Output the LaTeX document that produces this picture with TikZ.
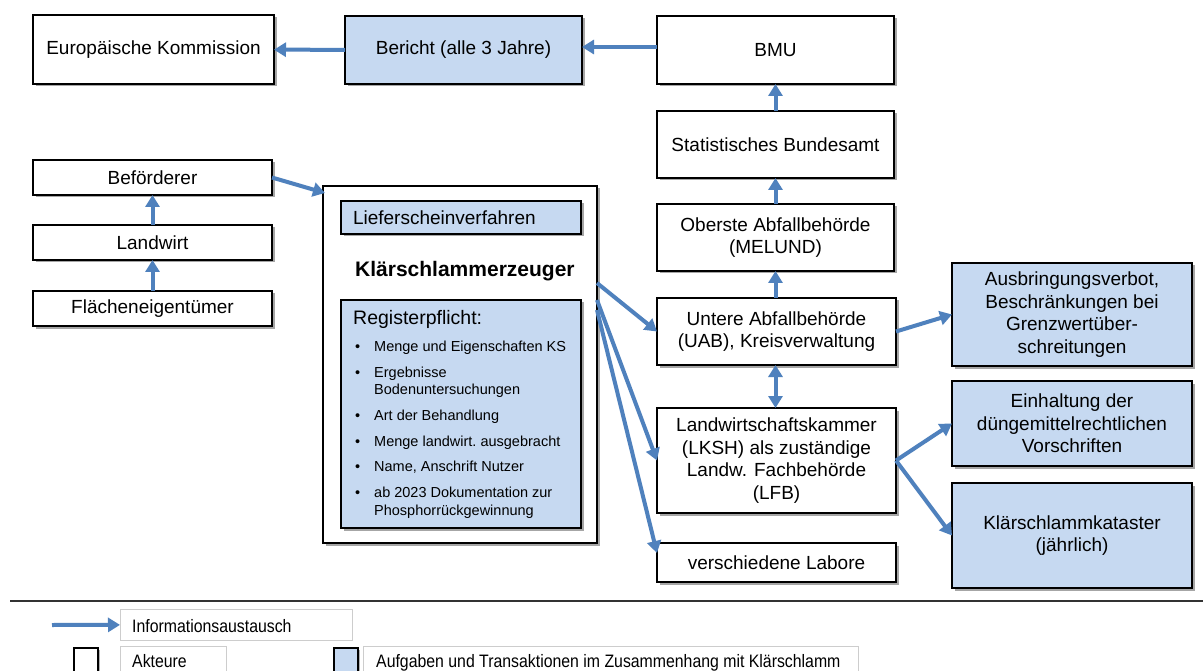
\documentclass[tikz,border=0pt]{standalone}
\usepackage{fontspec}
\setmainfont{Liberation Sans}
\newfontfamily\legfont[FakeStretch=0.88]{Liberation Sans}
\usetikzlibrary{arrows.meta,shadows,calc}
\definecolor{arrowblue}{RGB}{79,129,189}
\definecolor{taskblue}{RGB}{198,217,241}
\definecolor{leggray}{RGB}{205,205,205}
\tikzset{
  box/.style={draw=black,line width=1.1pt,fill=white,inner sep=0pt,outer sep=0pt,
    align=center,font=\fontsize{19}{22.5}\selectfont,
    drop shadow={shadow xshift=2.5pt,shadow yshift=-2.5pt,opacity=0.35,fill=black}},
  task/.style={box,fill=taskblue},
  flow/.style={draw=arrowblue,line width=4pt,-{Triangle[length=12pt,width=14pt]}},
  flowboth/.style={draw=arrowblue,line width=4pt,{Triangle[length=12pt,width=14pt]}-{Triangle[length=12pt,width=14pt]}},
  txt/.style={inner sep=0pt,anchor=base west},
  item/.style={txt,font=\fontsize{14.5}{17}\selectfont},
  legbox/.style={draw=leggray,line width=0.8pt,fill=white,inner sep=0pt,anchor=north west},
  legtxt/.style={txt,font=\legfont\fontsize{18}{21}\selectfont},
  keybox/.style={draw=black,line width=1.8pt,inner sep=0pt,anchor=north west,
    minimum width=24pt,minimum height=28pt,
    drop shadow={shadow xshift=2pt,shadow yshift=-2pt,opacity=0.3,fill=black}}
}
\begin{document}
\begin{tikzpicture}[x=1pt,y=-1pt]
\useasboundingbox (0,0) rectangle (1203,671);
\clip (0,0) rectangle (1203,671);
\fill[white] (0,0) rectangle (1203,671);

% top row
\node[box,minimum width=241pt,minimum height=69pt] (ek) at (153.5,49.5) {Europäische Kommission};
\node[task,minimum width=237pt,minimum height=68pt] (ber) at (463.5,50) {Bericht (alle 3 Jahre)};
\node[box,minimum width=237pt,minimum height=68pt] (bmu) at (775.5,50) {BMU};

% right column
\node[box,minimum width=237pt,minimum height=67pt] (stat) at (775.5,144.5) {Statistisches Bundesamt};
\node[box,minimum width=237pt,minimum height=67pt] (ober) at (775.5,237.5) {Oberste Abfallbehörde\\(MELUND)};
\node[box,minimum width=239pt,minimum height=67pt] (unt) at (776.5,331.5) {Untere Abfallbehörde\\(UAB), Kreisverwaltung};
\node[box,minimum width=239pt,minimum height=105pt] (lksh) at (776.5,460.5) {Landwirtschaftskammer\\(LKSH) als zuständige\\Landw. Fachbehörde\\(LFB)};
\node[box,minimum width=239pt,minimum height=39pt] (lab) at (776.5,562.5) {verschiedene Labore};

% task boxes right
\node[task,minimum width=240pt,minimum height=103pt] (ausb) at (1072,314.5) {Ausbringungsverbot,\\Beschränkungen bei\\Grenzwertüber-\\schreitungen};
\node[task,minimum width=240pt,minimum height=85pt] (einh) at (1072,423.5) {Einhaltung der\\düngemittelrechtlichen\\Vorschriften};
\node[task,minimum width=240pt,minimum height=105pt] (kat) at (1072,535.5) {Klärschlammkataster\\(jährlich)};

% left column
\node[box,minimum width=239pt,minimum height=35pt] (bef) at (152.5,177.5) {Beförderer};
\node[box,minimum width=239pt,minimum height=35pt] (lw) at (152.5,242.5) {Landwirt};
\node[box,minimum width=239pt,minimum height=35pt] (fl) at (152.5,308.5) {Flächeneigentümer};

% Klärschlammerzeuger
\node[box,minimum width=274pt,minimum height=357pt] (kse) at (460,364.5) {};
\node[task,minimum width=240pt,minimum height=33pt,text width=216pt,inner xsep=12pt,align=left] (lief) at (461,217.5) {Lieferscheinverfahren};
\node[txt,font=\fontsize{21}{25}\selectfont\bfseries] (ksetitle) at (355,277) {Klärschlammerzeuger};
\node[task,minimum width=240pt,minimum height=228pt] (reg) at (461,414) {};
\node[txt,font=\fontsize{19.5}{23}\selectfont] (regt) at (353,324) {Registerpflicht:};
\foreach \n/\y in {1/351.5,2/377.5,3/420.5,4/446.5,5/471.5,6/497.5}
  \node[item] (bul\n) at (355,\y) {•};
\node[item] (i1) at (374,351.5) {Menge und Eigenschaften KS};
\node[item] (i2) at (374,377.5) {Ergebnisse};
\node[item] (i2b) at (374,394.5) {Bodenuntersuchungen};
\node[item] (i3) at (374,420.5) {Art der Behandlung};
\node[item] (i4) at (374,446.5) {Menge landwirt.\ ausgebracht};
\node[item] (i5) at (374,471.5) {Name, Anschrift Nutzer};
\node[item] (i6) at (374,497.5) {ab 2023 Dokumentation zur};
\node[item] (i6b) at (374,515.5) {Phosphorrückgewinnung};

% arrows
\draw[flow] (ber) -- (ek);
\draw[flow] (bmu.west |- 0,47) -- (ber.east |- 0,47);
\draw[flow] (stat) -- (bmu);
\draw[flow] (ober) -- (stat);
\draw[flow] (unt.north -| ober.south) -- (ober.south);
\draw[flowboth] (unt.south -| ober.south) -- (lksh.north -| ober.south);
\draw[flow] (unt.east) -- (ausb.west);
\draw[flow] (lksh.east) -- (einh.west);
\draw[flow] (lksh.east) -- (kat.west);
\draw[flow] (fl) -- (lw);
\draw[flow] (lw) -- (bef);
\draw[flow] (bef.east) -- ($(kse.north west)+(2,7)$);
\draw[flow] ($(kse.north east)+(0,97)$) -- (unt.west);
\draw[flow] ($(kse.north east)+(0,114)$) -- (lksh.west);
\draw[flow] ($(kse.north east)+(0,124)$) -- ($(lab.north west)+(0,10)$);

% separator
\draw[black!80,line width=1.8pt] (10,601) -- (1203,601);

% legend
\coordinate (legstart) at (52,625);
\node[legbox,minimum width=232pt,minimum height=31pt] (info) at (120,609) {};
\node[legtxt] (infot) at (132,632.5) {Informationsaustausch};
\draw[flow] (legstart) -- (info.west);
\node[keybox,fill=white] (kw) at (73,647) {};
\node[legbox,minimum width=106pt,minimum height=31pt] (akt) at (120,646) {};
\node[legtxt] (aktt) at (132,667.5) {Akteure};
\node[keybox,fill=taskblue] (kb) at (333,647) {};
\node[legbox,minimum width=495pt,minimum height=31pt] (aufg) at (363,646) {};
\node[legtxt] (aufgt) at (376,667.5) {Aufgaben und Transaktionen im Zusammenhang mit Klärschlamm};
\end{tikzpicture}
\end{document}
